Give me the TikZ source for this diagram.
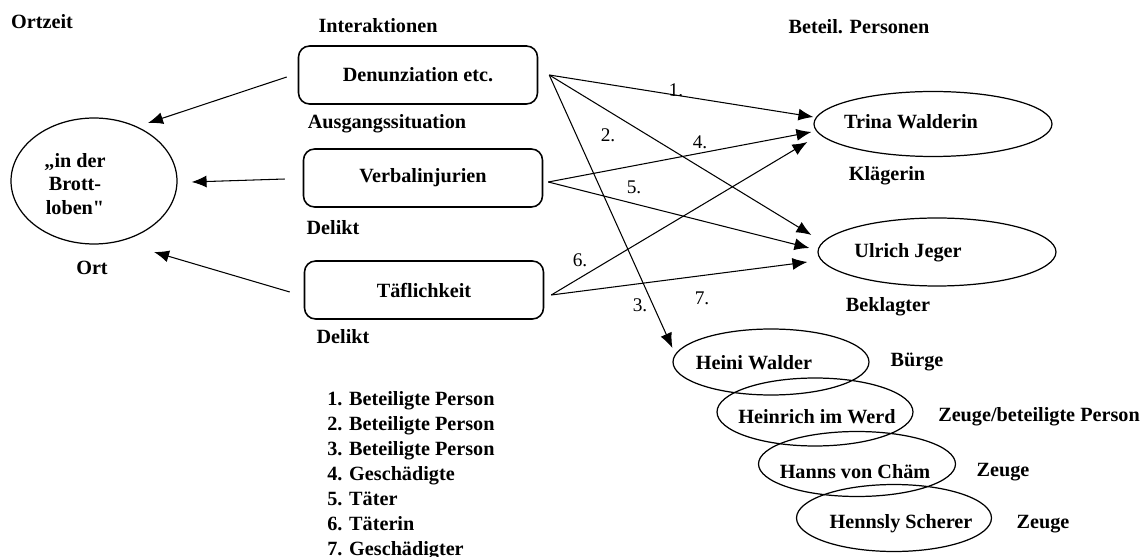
\documentclass[tikz,border=0pt]{standalone}
\usepackage{fontspec}
\setmainfont{Liberation Serif}
\usetikzlibrary{shapes.geometric,calc,arrows.meta}

\begin{document}
\begin{tikzpicture}[x=0.02cm,y=-0.02cm,
  lbl/.style={font=\fontsize{11.5}{14.2}\selectfont\bfseries, inner sep=0pt},
  num/.style={font=\fontsize{11}{13}\selectfont, inner sep=0pt},
  box/.style={draw, line width=0.9pt, rounded corners=0.22cm, minimum width=4.78cm, minimum height=1.16cm, font=\fontsize{11.5}{14.2}\selectfont\bfseries},
  oval/.style={draw, ellipse, line width=0.7pt, inner sep=0pt},
  arr/.style={line width=0.6pt, -{Latex[length=3mm,width=2.4mm]}}]

\useasboundingbox (0,0) rectangle (1147,557);

\node[lbl] (ortzeit) at (42,22) {Ortzeit};
\node[lbl] (interakt) at (378,26) {Interaktionen};
\node[lbl] (beteil) at (859,27) {Beteil. Personen};

\node[box] (denun) at (418,75) {Denunziation etc.};
\node[lbl] (ausgang) at (387,124) {Ausgangssituation};
\node[box] (verbal) at (423,178) {Verbalinjurien};
\node[lbl] (delikt1) at (333,228) {Delikt};
\node[box] (taefl) at (424,290) {Täflichkeit};
\node[lbl] (delikt2) at (343,337) {Delikt};

\node[oval, minimum width=3.32cm, minimum height=2.52cm] (ort) at (94,181) {};
\node[lbl, align=center, font=\fontsize{11.5}{13.6}\selectfont\bfseries] at (75,184) {„in der\\Brott-\\loben{\addfontfeatures{Ligatures=TeXOff}"}};
\node[lbl] (ortlbl) at (92,268) {Ort};

\node[oval, minimum width=4.76cm, minimum height=1.3cm] (trina) at (933,124) {};
\node[lbl] at (911,122) {Trina Walderin};
\node[lbl] (klaeg) at (887,176) {Klägerin};
\node[oval, minimum width=4.76cm, minimum height=1.36cm] (ulrich) at (937,252) {};
\node[lbl] at (908,253) {Ulrich Jeger};
\node[lbl] (beklagt) at (888,307) {Beklagter};

\node[oval, minimum width=3.92cm, minimum height=1.32cm] (heini) at (771,362) {};
\node[lbl] at (754,363) {Heini Walder};
\node[lbl] at (917,362) {Bürge};
\node[oval, minimum width=3.92cm, minimum height=1.36cm] (heinrich) at (815,412) {};
\node[lbl] at (817,417) {Heinrich im Werd};
\node[lbl] at (1039,417) {Zeuge/beteiligte Person};
\node[oval, minimum width=3.94cm, minimum height=1.3cm] (hanns) at (857,464) {};
\node[lbl] at (855,472) {Hanns von Chäm};
\node[lbl] at (1003,472) {Zeuge};
\node[oval, minimum width=3.9cm, minimum height=1.34cm] (hennsly) at (894,518) {};
\node[lbl] at (901,524) {Hennsly Scherer};
\node[lbl] at (1043,524) {Zeuge};

\node[lbl, anchor=north west, align=left] (legend) at (327,391) {1. Beteiligte Person\\2. Beteiligte Person\\3. Beteiligte Person\\4. Geschädigte\\5. Täter\\6. Täterin\\7. Geschädigter};

% zum Ort
\draw[arr] ($(denun.west)+(-11,2)$) -- ($(ort.center)+(54,-58)$);
\draw[arr] ($(verbal.west)+(-18,1)$) -- ($(ort.east)+(14,1)$);
\draw[arr] ($(taefl.west)+(-14,2)$) -- ($(ort.center)+(60,71)$);

% zu den Personen
\coordinate (dS) at ($(denun.east)+(11,0)$);
\coordinate (vS) at ($(verbal.east)+(5,4)$);
\coordinate (tS) at ($(taefl.east)+(7,5)$);

\draw[arr] (dS) -- ($(trina.west)+(0,-7)$);
\draw[arr] (dS) -- ($(ulrich.west)+(-6,-17)$);
\draw[arr] (dS) -- ($(heini.west)+(0,-14)$);
\draw[arr] (vS) -- ($(trina.west)+(-2,8)$);
\draw[arr] (vS) -- ($(ulrich.west)+(-8,-4)$);
\draw[arr] (tS) -- ($(trina.west)+(-6,18)$);
\draw[arr] (tS) -- ($(ulrich.west)+(-10,10)$);

\node[num] at (676,90) {1.};
\node[num] at (608,135) {2.};
\node[num] at (640,305) {3.};
\node[num] at (700,142) {4.};
\node[num] at (634,187) {5.};
\node[num] at (580,260) {6.};
\node[num] at (702,298) {7.};

\end{tikzpicture}
\end{document}
